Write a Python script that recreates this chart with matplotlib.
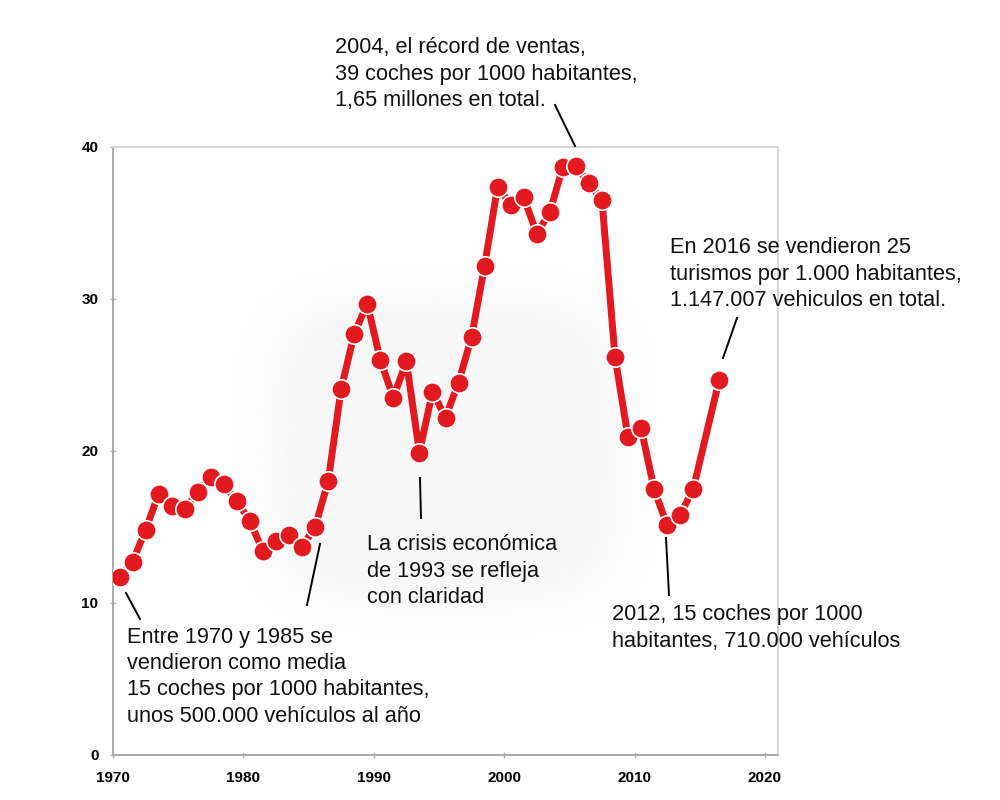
import numpy as np
import matplotlib
matplotlib.use('Agg')
import matplotlib.pyplot as plt
from matplotlib.lines import Line2D

plt.rcParams['font.family'] = ['Liberation Sans', 'DejaVu Sans']

# cars sold per 1000 inhabitants (2015 missing in the original)
years = list(range(1970, 2015)) + [2016]
values = [11.7, 12.7, 14.8, 17.2, 16.4, 16.2, 17.3, 18.3, 17.8, 16.7,
          15.4, 13.4, 14.1, 14.5, 13.7, 15.0, 18.0, 24.1, 27.7, 29.7,
          26.0, 23.5, 25.9, 19.9, 23.9, 22.2, 24.5, 27.5, 32.2, 37.4,
          36.2, 36.7, 34.3, 35.7, 38.7, 38.75, 37.6, 36.5, 26.2, 20.9,
          21.5, 17.5, 15.1, 15.8, 17.5, 24.7]

notes = [
    "2004, el récord de ventas,\n39 coches por 1000 habitantes,\n1,65 millones en total.",
    "Entre 1970 y 1985 se\nvendieron como media\n15 coches por 1000 habitantes,\nunos 500.000 vehículos al año",
    "La crisis económica\nde 1993 se refleja\ncon claridad",
    "2012, 15 coches por 1000\nhabitantes, 710.000 vehículos",
    "En 2016 se vendieron 25\nturismos por 1.000 habitantes,\n1.147.007 vehiculos en total.",
]

W, H = 1000, 800
LINE_PX = 26.5
fig = plt.figure(figsize=(10, 8), dpi=100)
ax = fig.add_axes([0.113, 0.05625, 0.665, 0.76])

# faint grey glow behind the middle of the chart
gx, gy = np.meshgrid(np.linspace(-1, 1, 300), np.linspace(-1, 1, 300))
d = (np.abs(gx) ** 4 + np.abs(gy) ** 4) ** 0.25
glow = np.clip((1 - d) / 0.45, 0, 1)
glow = glow * glow * (3 - 2 * glow)
ax.imshow(1 - 0.03 * glow, cmap='gray', vmin=0, vmax=1, aspect='auto',
          extent=[1977.5, 2013.5, 6.5, 33.5], zorder=0, interpolation='bilinear')

x = np.array(years) + 0.5
ax.plot(x, values, color='#e2191f', lw=5, marker='o', ms=14,
        mfc='#e2191f', mec='white', mew=1.2, zorder=3, solid_capstyle='round')

ax.set_xlim(1970, 2021)
ax.set_ylim(0, 40)
ax.set_xticks([1970, 1980, 1990, 2000, 2010, 2020])
ax.set_yticks([0, 10, 20, 30, 40])
ax.tick_params(direction='inout', length=5, width=1, color='#b0b0b0',
               labelsize=11)
for lab in ax.get_xticklabels() + ax.get_yticklabels():
    lab.set_fontweight('bold')
ax.tick_params(axis='x', pad=9)
ax.tick_params(axis='y', pad=8)
for s in ['left', 'bottom']:
    ax.spines[s].set_color('#a8a8a8')
    ax.spines[s].set_linewidth(1.4)
for s in ['top', 'right']:
    ax.spines[s].set_color('#d4d4d4')
    ax.spines[s].set_linewidth(1.4)

# annotation texts (pixel position of the first line's baseline)
text_pos = [(335, 53), (127, 642), (367, 550), (612, 620), (670, 253)]
for (px, py), t in zip(text_pos, notes):
    n = t.count('\n')
    fig.text(px / W, 1 - (py + n * LINE_PX) / H, t, fontsize=15.7,
             va='baseline', ha='left', linespacing=1.33, color='#111111')

# leader lines
leaders = [((555, 105), (575, 146)), ((126, 593), (140, 619)),
           ((320, 544), (307, 605)), ((420, 478), (421, 518)),
           ((666, 538), (669, 595)), ((737, 318), (723, 358))]
for (x0, y0), (x1, y1) in leaders:
    fig.add_artist(Line2D([x0 / W, x1 / W], [1 - y0 / H, 1 - y1 / H],
                          transform=fig.transFigure, color='black', lw=1.4))

fig.savefig('out.png', dpi=100)
